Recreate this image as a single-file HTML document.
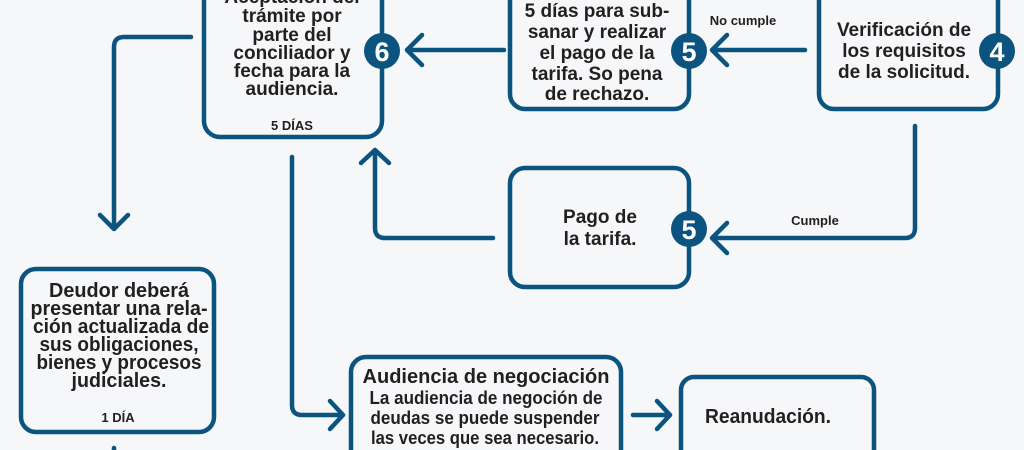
<!DOCTYPE html>
<html><head><meta charset="utf-8"><style>
html,body{margin:0;padding:0;background:#f5f7f8;}
svg{display:block}
text{font-family:"Liberation Sans",sans-serif;font-weight:bold;fill:#231f20;text-anchor:middle}
.b{fill:none;stroke:#0c5480;stroke-width:4.5}
.l{fill:none;stroke:#0c5480;stroke-width:4.5;stroke-linecap:round;stroke-linejoin:round}
.c{fill:#0c5480}
.n{fill:#fff;font-size:27px}
</style></head><body>
<svg width="1024" height="450" viewBox="0 0 1024 450">
<rect width="1024" height="450" fill="#f5f7f8"/>
<rect class="b" x="204" y="-30" width="178" height="167" rx="16"/>
<rect class="b" x="510" y="-30" width="179" height="139" rx="15"/>
<rect class="b" x="819" y="-30" width="179" height="139" rx="15"/>
<rect class="b" x="510" y="168" width="179" height="119" rx="15"/>
<rect class="b" x="21" y="269" width="193" height="163" rx="15"/>
<rect class="b" x="351" y="357" width="270" height="110" rx="15"/>
<rect class="b" x="681" y="377" width="193" height="90" rx="13"/>
<path class="l" d="M805 50 H713 M727 35 L712 50 L727 65"/>
<path class="l" d="M504 50 H407 M422 35 L407 50 L422 65"/>
<path class="l" d="M915 126 V228 Q915 238 905 238 H713 M727 223 L712 238 L727 253"/>
<path class="l" d="M493 238 H385 Q375 238 375 228 V151 M361 163 L375 150 L389 163"/>
<path class="l" d="M191 37 H124 Q114 37 114 47 V228 M100 215 L114 229 L128 215"/>
<path class="l" d="M292 157 V405 Q292 415 302 415 H340 M330 401 L343 415 L330 429"/>
<path class="l" d="M633 415 H669 M657 401 L670 415 L657 429"/>
<path class="l" d="M114 448 V460"/>
<circle class="c" cx="382" cy="51" r="18"/><text class="n" x="382" y="61">6</text>
<circle class="c" cx="689" cy="51" r="18"/><text class="n" x="689" y="61">5</text>
<circle class="c" cx="997" cy="51" r="18"/><text class="n" x="997" y="61">4</text>
<circle class="c" cx="689" cy="229" r="18"/><text class="n" x="689" y="239">5</text>
<g font-size="19">
<text x="292" y="3">Aceptación del</text>
<text x="292" y="22">trámite por</text>
<text x="292" y="41">parte del</text>
<text x="292" y="59">conciliador y</text>
<text x="292" y="77">fecha para la</text>
<text x="292" y="95">audiencia.</text>
<text x="597" y="17">5 días para sub-</text>
<text x="597" y="38">sanar y realizar</text>
<text x="597" y="59">el pago de la</text>
<text x="597" y="80">tarifa. So pena</text>
<text x="597" y="100">de rechazo.</text>
<text x="904" y="36">Verificación de</text>
<text x="904" y="57">los requisitos</text>
<text x="904" y="78">de la solicitud.</text>
<text x="600" y="223">Pago de</text>
<text x="600" y="245">la tarifa.</text>
</g>
<g font-size="20" lengthAdjust="spacingAndGlyphs">
<text x="119" y="297" textLength="140" lengthAdjust="spacingAndGlyphs">Deudor deberá</text>
<text x="119" y="315" textLength="177" lengthAdjust="spacingAndGlyphs">presentar una rela-</text>
<text x="121" y="333" textLength="176" lengthAdjust="spacingAndGlyphs">ción actualizada de</text>
<text x="119" y="351" textLength="159" lengthAdjust="spacingAndGlyphs">sus obligaciones,</text>
<text x="119" y="369" textLength="165" lengthAdjust="spacingAndGlyphs">bienes y procesos</text>
<text x="119" y="387" textLength="95" lengthAdjust="spacingAndGlyphs">judiciales.</text>
<text x="486" y="383" textLength="247" lengthAdjust="spacingAndGlyphs">Audiencia de negociación</text>
<text x="768" y="423" textLength="126" lengthAdjust="spacingAndGlyphs">Reanudación.</text>
</g>
<g font-size="18">
<text x="486" y="404" textLength="233" lengthAdjust="spacingAndGlyphs">La audiencia de negoción de</text>
<text x="485" y="424" textLength="229" lengthAdjust="spacingAndGlyphs">deudas se puede suspender</text>
<text x="485" y="444" textLength="228" lengthAdjust="spacingAndGlyphs">las veces que sea necesario.</text>
</g>
<g font-size="13">
<text x="292" y="130">5 DÍAS</text>
<text x="118" y="422">1 DÍA</text>
<text x="743" y="25">No cumple</text>
<text x="815" y="225">Cumple</text>
</g>
</svg>
</body></html>
